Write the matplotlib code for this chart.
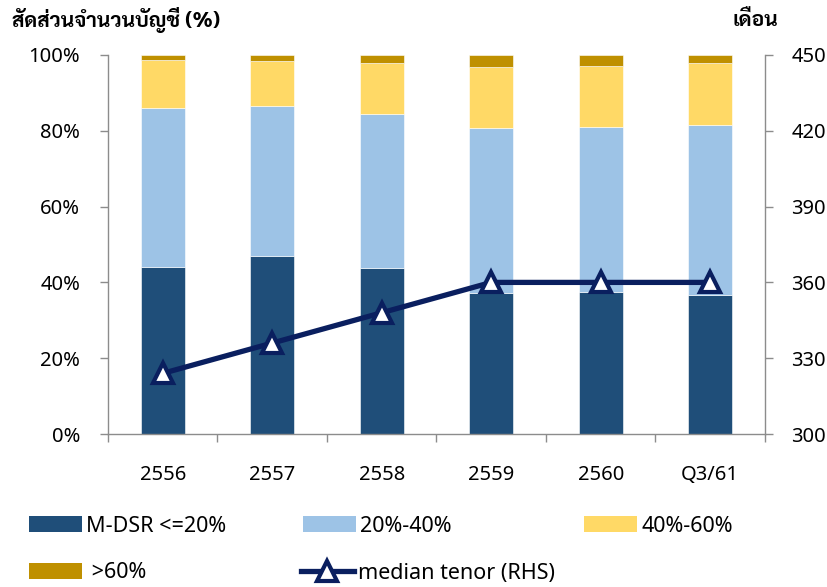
import matplotlib
matplotlib.use("Agg")
import matplotlib.pyplot as plt
import numpy as np
from matplotlib.patches import Patch
from matplotlib.lines import Line2D

# Share of mortgage accounts by M-DSR bucket (%), plus median tenor (months)
periods = ["2556", "2557", "2558", "2559", "2560", "Q3/61"]
dsr_le20 = [44.0, 47.0, 43.8, 37.2, 37.5, 36.7]
dsr_20_40 = [42.1, 39.6, 40.7, 43.6, 43.4, 44.9]
dsr_40_60 = [12.6, 11.9, 13.4, 16.0, 16.3, 16.4]
dsr_gt60 = [1.3, 1.5, 2.1, 3.2, 2.8, 2.0]
median_tenor = [324, 336, 348, 360, 360, 360]

series_labels = ["M-DSR <=20%", "20%-40%", "40%-60%", " >60%"]
line_label = "median tenor (RHS)"
left_ticks = [0, 20, 40, 60, 80, 100]
right_ticks = [300, 330, 360, 390, 420, 450]

colors = ["#1F4E79", "#9DC3E6", "#FFD966", "#BF9000"]
navy = "#0A1F5F"
axis_gray = "#8C8C8C"

thai_font = ["Sarabun", "DejaVu Sans"]
latin_font = ["Noto Sans", "DejaVu Sans"]

plt.rcParams["font.family"] = latin_font

W, H = 828, 587
fig = plt.figure(figsize=(W / 100, H / 100), dpi=100)
ax = fig.add_axes([108 / W, 1 - 434 / H, (765 - 108) / W, (434 - 55) / H])

x = np.arange(len(periods))
bottom = np.zeros(len(periods))
bar_handles = []
for vals, col, lab in zip([dsr_le20, dsr_20_40, dsr_40_60, dsr_gt60], colors, series_labels):
    vals = np.array(vals)
    ax.bar(x, vals, width=0.4, bottom=bottom, color=col, edgecolor="#FFFFFF",
           linewidth=0.4, zorder=2)
    bottom += vals
    bar_handles.append(Patch(facecolor=col, edgecolor="none", label=lab))

ax.set_xlim(-0.5, len(periods) - 0.5)
ax.set_ylim(0, 100)
ax.set_yticks(left_ticks)
ax.set_yticklabels([f"{t}%" for t in left_ticks])
ax.set_xticks(x)
ax.set_xticklabels(periods)
ax.set_xticks(np.arange(-0.5, len(periods)), minor=True)
ax.tick_params(axis="x", which="major", length=0, pad=22, labelsize=14.5)
ax.tick_params(axis="x", which="minor", length=6, color=axis_gray, width=1)
ax.tick_params(axis="y", length=6, color=axis_gray, width=1, pad=14, labelsize=14.5)

for side in ["left", "bottom"]:
    ax.spines[side].set_color(axis_gray)
    ax.spines[side].set_linewidth(1)
for side in ["top", "right"]:
    ax.spines[side].set_visible(False)

ax2 = ax.twinx()
ax2.set_ylim(300, 450)
ax2.set_yticks(right_ticks)
ax2.set_yticklabels([str(t) for t in right_ticks])
ax2.tick_params(axis="y", length=6, color=axis_gray, width=1, pad=13, labelsize=14.5)
for side in ["top", "left", "bottom"]:
    ax2.spines[side].set_visible(False)
ax2.spines["right"].set_color(axis_gray)
ax2.spines["right"].set_linewidth(1)

line_style = dict(color=navy, linewidth=3.8, marker="^", markersize=15,
                  markerfacecolor="white", markeredgecolor=navy, markeredgewidth=3.0)
ax2.plot(x, median_tenor, zorder=5, clip_on=False, **line_style)
line_handle = Line2D([0], [0], label=line_label, **line_style)

# Legend entries placed at fixed spots: three on the first row, two on the second
legend_spots = [
    (bar_handles[0], 29, 526),
    (bar_handles[1], 303, 526),
    (bar_handles[2], 584, 526),
    (bar_handles[3], 29, 573),
    (line_handle, 301, 573),
]
for handle, px, py in legend_spots:
    fig.legend([handle], [handle.get_label()], loc="center left",
               bbox_to_anchor=(px / W, 1 - py / H), frameon=False,
               fontsize=15.5, handlelength=2.45, handleheight=0.75,
               handletextpad=0.22, borderaxespad=0, borderpad=0)

fig.text(12 / W, 1 - 20 / H, "สัดส่วนจำนวนบัญชี (%)", family=thai_font,
         fontsize=15, fontweight="bold", va="center", ha="left")
fig.text(778 / W, 1 - 20 / H, "เดือน", family=thai_font,
         fontsize=15, fontweight="bold", va="center", ha="right")

fig.savefig("out.png", dpi=100)
